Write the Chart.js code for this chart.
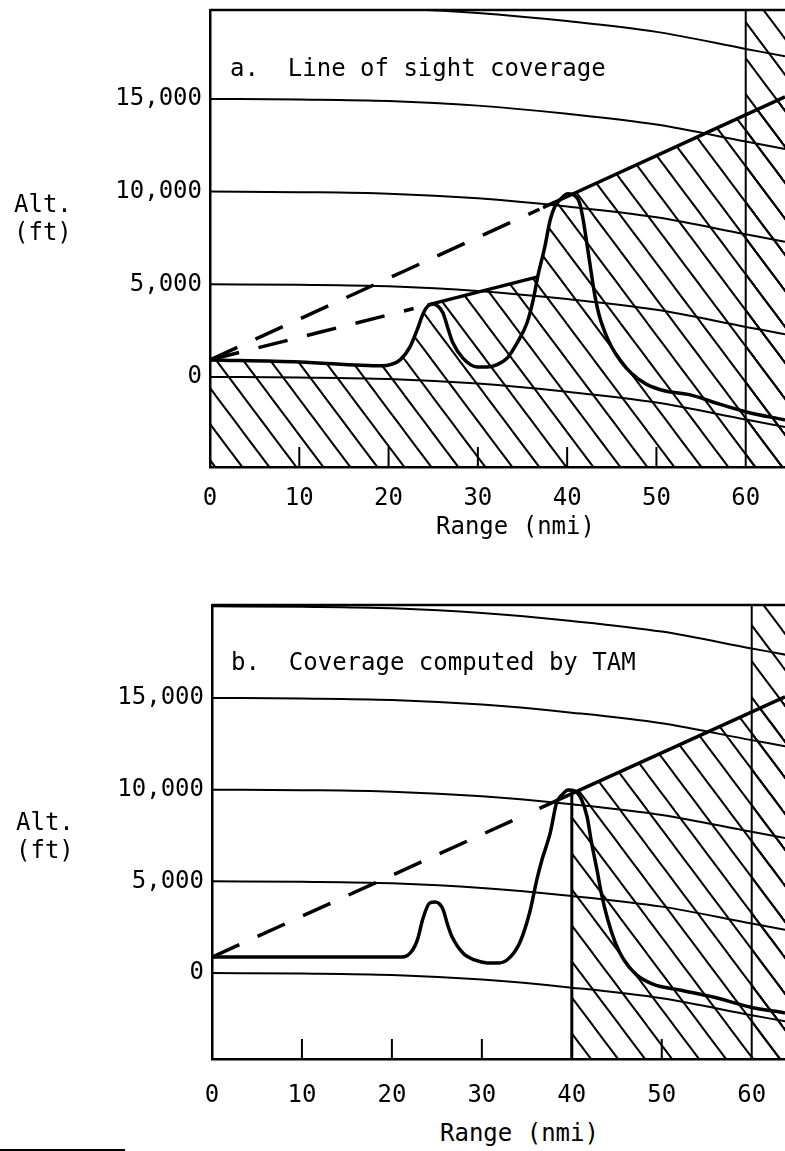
<!DOCTYPE html>
<html>
<head>
<meta charset="utf-8">
<title>Coverage: line of sight vs TAM</title>
<script src="https://cdn.jsdelivr.net/npm/chart.js"></script>
<style>
  body { margin:0; background:#fff; width:785px; height:1151px; position:relative; overflow:hidden;
         font-family:"DejaVu Sans Mono", monospace; color:#000; }
  canvas { position:absolute; left:0; }
  .lbl { position:absolute; font-size:24px; line-height:28px; white-space:pre; }
  .rule { position:absolute; left:0; top:1149px; width:125px; height:2px; background:#000; }
</style>
<script>
// ---- data (range in nmi, altitude in ft) ----
var xTicks = [0, 10, 20, 30, 40, 50, 60];
var yTicks = [0, 5000, 10000, 15000];
var innerTicks = [10, 20, 30, 40, 50];
var horizon = 60;            // hatched everywhere beyond this range

// constant altitude curves (earth curvature), same in both panels
var curveRange = [0, 10, 20, 30, 40, 50, 60, 64.4, 66];
var alt0     = [0, -30, -110, -360, -800, -1380, -2300, -2700, -2860];
var alt5000  = [5000, 4970, 4890, 4640, 4200, 3620, 2700, 2300, 2140];
var alt10000 = [10000, 9970, 9890, 9640, 9200, 8620, 7700, 7300, 7140];
var alt15000 = [15000, 14970, 14890, 14640, 14200, 13620, 12700, 12300, 12140];
var alt20000 = [20000, 19970, 19890, 19640, 19200, 18620, 17700, 17300, 17140];

// panel a: line of sight coverage
var terrainRangeA = [0, 10, 19.3, 20.3, 21.3, 22.4, 23.2, 23.9, 24.4, 25.0, 25.5, 26.1, 26.7, 27.2, 28.3, 29.9, 31.0, 32.1, 33.3, 34.4, 35.5, 36.2, 36.7, 37.5, 38.1, 38.6, 39.4, 40.1, 40.9, 41.4, 41.8, 42.2, 42.6, 43.1, 43.6, 44.2, 45.0, 46.0, 47.2, 48.9, 51.0, 53.8, 56.3, 60.1, 64.4];
var terrainAltA   = [920, 810, 600, 680, 920, 1620, 2540, 3450, 3830, 3940, 3830, 3450, 2540, 1840, 1030, 540, 540, 650, 1030, 1840, 2910, 4160, 5400, 7020, 8470, 9170, 9660, 9880, 9770, 9390, 8470, 7230, 5940, 4400, 3300, 2450, 1600, 850, 200, -400, -760, -970, -1350, -1890, -2320];
var upperDashRangeA  = [0, 36.9];
var upperDashAltA    = [920, 9050];
var upperSolidRangeA = [37.3, 39.4, 64.4];
var upperSolidAltA   = [9140, 9600, 15110];
var lowerDashRangeA  = [0, 22.8];
var lowerDashAltA    = [920, 3690];
var lowerSolidRangeA = [24.4, 36.7];
var lowerSolidAltA   = [3890, 5400];

// panel b: coverage computed by TAM
var terrainRangeB = [0, 10, 18.7, 21.2, 22.3, 22.9, 23.4, 24.2, 24.8, 25.3, 25.7, 26.2, 26.7, 27.9, 29.2, 30.6, 31.7, 32.8, 34.2, 35.3, 36.1, 36.7, 37.6, 38.3, 38.9, 39.6, 40.3, 41.1, 41.7, 42.2, 42.8, 43.3, 44.0, 44.8, 45.8, 47.2, 49.0, 52.0, 55.7, 59.8, 63.7];
var terrainAltB   = [870, 870, 870, 870, 1250, 1910, 2890, 3820, 3870, 3760, 3440, 2620, 1960, 1090, 710, 550, 550, 710, 1640, 3270, 5070, 6200, 7640, 9270, 9710, 9980, 9930, 9440, 8510, 7090, 5620, 4300, 2900, 1700, 700, -100, -600, -930, -1310, -1850, -2180];
var upperDashRangeB  = [0, 35.3];
var upperDashAltB    = [870, 8735];
var upperSolidRangeB = [36.4, 40, 63.7];
var upperSolidAltB   = [8980, 9780, 15060];
var tamEdge = 40;            // TAM shading starts here

function pts(xs, ys) {
  return xs.map(function (x, i) { return {x: x, y: ys[i]}; });
}
function between(p, a, b) {
  return p.filter(function (q) { return q.x >= a && q.x <= b; });
}

function hatchPattern(ctx) {
  var w = 27, h = 36;
  var c = document.createElement('canvas');
  c.width = w; c.height = h;
  var g = c.getContext('2d');
  g.strokeStyle = '#000';
  g.lineWidth = 2;
  for (var k = -1; k <= 1; k++) {
    g.beginPath();
    g.moveTo(k * w - w, -h);
    g.lineTo(k * w + 2 * w, 2 * h);
    g.stroke();
  }
  return ctx.createPattern(c, 'repeat');
}

// top border and inward range ticks
var frame = {
  id: 'frame',
  afterDraw: function (chart) {
    var ctx = chart.ctx, a = chart.chartArea, x = chart.scales.x;
    ctx.save();
    ctx.strokeStyle = '#000';
    ctx.lineWidth = 2.5;
    ctx.beginPath();
    ctx.moveTo(a.left, a.top);
    ctx.lineTo(a.right, a.top);
    ctx.stroke();
    ctx.lineWidth = 2;
    ctx.beginPath();
    innerTicks.forEach(function (v) {
      var px = x.getPixelForValue(v);
      ctx.moveTo(px, a.bottom);
      ctx.lineTo(px, a.bottom - 20);
    });
    ctx.stroke();
    ctx.restore();
  }
};

function thick(data, dashed) {
  return {data: data, borderColor: '#000', borderWidth: 3.5, borderDash: dashed ? [30, 20] : [],
          cubicInterpolationMode: 'monotone', fill: false, pointRadius: 0};
}
function thin(data, w) {
  return {data: data, borderColor: '#000', borderWidth: w || 2, cubicInterpolationMode: 'monotone',
          fill: false, pointRadius: 0};
}
function hatch(data, pattern) {
  return {data: data, borderWidth: 0, borderColor: 'rgba(0,0,0,0)', backgroundColor: pattern,
          fill: 'start', pointRadius: 0, tension: 0};
}
function curves() {
  return [alt0, alt5000, alt10000, alt15000, alt20000].map(function (a) { return thin(pts(curveRange, a)); });
}

function makeChart(id, datasets, p) {
  var font = {family: 'DejaVu Sans Mono', size: 24};
  return new Chart(document.getElementById(id), {
    type: 'line',
    data: {datasets: datasets},
    options: {
      responsive: false,
      animation: false,
      events: [],
      layout: {padding: {top: 10, left: 0, right: 0, bottom: 0}},
      plugins: {legend: {display: false}, tooltip: {enabled: false}, filler: {drawTime: 'beforeDatasetsDraw'}},
      scales: {
        x: {
          type: 'linear', min: 0, max: p.xMax,
          afterBuildTicks: function (s) { s.ticks = xTicks.map(function (v) { return {value: v}; }); },
          afterFit: function (s) { s.height = p.xAxisH; s.paddingLeft = 0; s.paddingRight = 0; },
          grid: {display: false, drawTicks: false},
          border: {display: true, color: '#000', width: 2.5},
          ticks: {color: '#000', font: font, padding: p.xPad, maxRotation: 0, autoSkip: false}
        },
        y: {
          type: 'linear', min: p.yMin, max: p.yMax,
          afterBuildTicks: function (s) { s.ticks = yTicks.map(function (v) { return {value: v}; }); },
          afterFit: function (s) { s.width = p.yAxisW; s.paddingTop = 0; s.paddingBottom = 0; },
          grid: {display: false, drawTicks: false},
          border: {display: true, color: '#000', width: 2.5},
          ticks: {color: '#000', font: font, padding: 8,
                  callback: function (v) { return v.toLocaleString('en-US'); }}
        }
      }
    },
    plugins: [frame]
  });
}

window.onload = function () {
  // panel a
  var ctxA = document.getElementById('chartA').getContext('2d');
  var patA = hatchPattern(ctxA);
  var terrainA = pts(terrainRangeA, terrainAltA);
  var upperSolidA = pts(upperSolidRangeA, upperSolidAltA);
  var lowerSolidA = pts(lowerSolidRangeA, lowerSolidAltA);
  var floorA = between(terrainA, 0, 24.3).concat(lowerSolidA, between(terrainA, 36.8, 38.6), between(upperSolidA, 39.4, 70));
  makeChart('chartA', [
    thick(terrainA),
    thick(pts(upperDashRangeA, upperDashAltA), true),
    thick(upperSolidA),
    thick(pts(lowerDashRangeA, lowerDashAltA), true),
    thick(lowerSolidA),
    thin([{x: horizon, y: -4860}, {x: horizon, y: 19800}])
  ].concat(curves(), [
    hatch(floorA, patA),
    hatch([{x: horizon, y: 19800}, {x: 66, y: 19800}], patA)
  ]), {xMax: 64.4, yMin: -4860, yMax: 19800, xAxisH: 93, yAxisW: 210, xPad: 17});

  // panel b
  var ctxB = document.getElementById('chartB').getContext('2d');
  var patB = hatchPattern(ctxB);
  var upperSolidB = pts(upperSolidRangeB, upperSolidAltB);
  makeChart('chartB', [
    thick(pts(terrainRangeB, terrainAltB)),
    thick(pts(upperDashRangeB, upperDashAltB), true),
    thick(upperSolidB),
    thin([{x: tamEdge, y: -4690}, {x: tamEdge, y: 9780}], 3),
    thin([{x: horizon, y: -4690}, {x: horizon, y: 20070}])
  ].concat(curves(), [
    hatch(between(upperSolidB, tamEdge, 70), patB),
    hatch([{x: horizon, y: 20070}, {x: 66, y: 20070}], patB)
  ]), {xMax: 63.7, yMin: -4690, yMax: 20070, xAxisH: 56, yAxisW: 212, xPad: 22});
};
</script>
</head>
<body>
<canvas id="chartA" width="785" height="560" style="top:0px"></canvas>
<canvas id="chartB" width="785" height="520" style="top:595px"></canvas>

<div class="lbl" style="left:230px; top:54px;">a.  Line of sight coverage</div>
<div class="lbl" style="left:14px; top:190px;">Alt.<br>(ft)</div>
<div class="lbl" style="left:436px; top:512px;">Range (nmi)</div>

<div class="lbl" style="left:231px; top:648px;">b.  Coverage computed by TAM</div>
<div class="lbl" style="left:16px; top:808px;">Alt.<br>(ft)</div>
<div class="lbl" style="left:440px; top:1119px;">Range (nmi)</div>

<div class="rule"></div>
</body>
</html>
